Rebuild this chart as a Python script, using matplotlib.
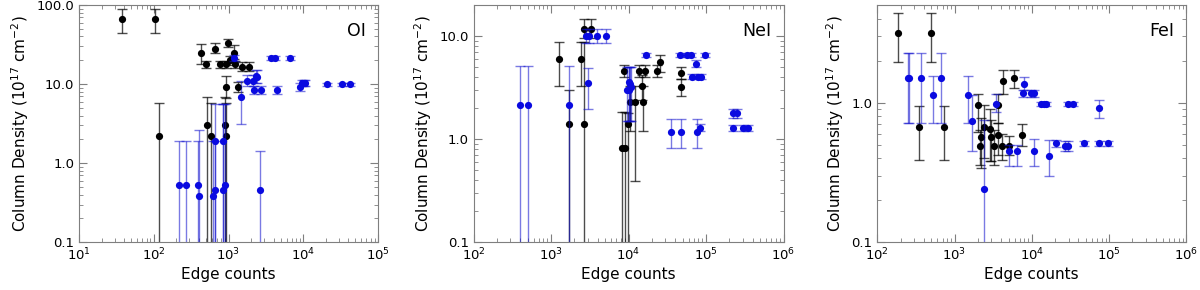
import matplotlib
matplotlib.use("Agg")
import matplotlib.pyplot as plt
import numpy as np
from matplotlib.ticker import FormatStrFormatter, LogLocator

# ---------------- OI ----------------
oi_k_x  = [37.6, 105, 116, 424, 500, 651, 760, 931, 990, 1035, 1180, 1218, 1497, 1875, 931, 1337, 509, 582, 903, 915]
oi_k_y  = [66.5, 66.5, 2.2, 24.9, 17.9, 28.0, 17.9, 17.9, 33.3, 20.0, 24.9, 17.9, 16.4, 16.4, 9.2, 9.2, 3.0, 2.2, 3.0, 2.2]
oi_k_lo = [44, 44, 0.01, 17.7, 16.0, 24.5, 16.0, 16.0, 29.7, 17.5, 21.0, 16.0, 14.6, 14.6, 6.7, 8.0, 0.01, 0.01, 0.01, 0.01]
oi_k_hi = [88, 88, 5.8, 31.8, 19.8, 32.7, 19.8, 19.8, 37.5, 22.5, 31.0, 19.8, 18.8, 18.8, 12.5, 10.5, 6.8, 5.8, 6.8, 5.8]

oi_b_x  = [1170, 3690, 4130, 6560, 1780, 2120, 2300, 2400, 2210, 2730, 4440, 1466, 9100, 9490, 10200, 10700,
           20700, 32500, 41600, 651, 834, 217, 272, 390, 406, 624, 651, 834, 887, 2630]
oi_b_y  = [21.5, 21.4, 21.4, 21.4, 11.1, 11.1, 12.6, 12.2, 8.5, 8.5, 8.5, 6.9, 9.2, 10.4, 10.4, 10.4,
           10.0, 10.0, 10.0, 1.9, 1.9, 0.537, 0.537, 0.537, 0.385, 0.385, 0.455, 0.455, 0.537, 0.455]
oi_b_lo = [19.5, 20.0, 20.0, 20.0, 9.6, 9.6, 10.4, 10.4, 7.5, 7.5, 7.5, 3.1, 8.2, 9.6, 9.6, 9.6,
           9.6, 9.6, 9.6, 0.01, 0.01, 0.01, 0.01, 0.01, 0.01, 0.01, 0.01, 0.01, 0.01, 0.01]
oi_b_hi = [23.5, 22.8, 22.8, 22.8, 13.0, 13.0, 14.9, 14.9, 9.6, 9.6, 9.6, 11.0, 10.2, 11.2, 11.2, 11.2,
           10.4, 10.4, 10.4, 5.6, 5.6, 1.9, 1.9, 1.9, 2.6, 1.9, 1.9, 5.6, 5.6, 1.41]

# ---------------- NeI ----------------
ne_k_x  = [1280, 2440, 2640, 3280, 1720, 2640, 8670, 13800, 16500, 23100, 25700, 14800, 10400, 12200, 15500,
           9870, 8170, 9020, 47500, 47500]
ne_k_y  = [6.0, 6.0, 11.8, 11.8, 1.39, 1.39, 4.54, 4.54, 4.54, 4.54, 5.58, 3.27, 2.28, 2.28, 2.28,
           1.41, 0.82, 0.82, 4.35, 3.22]
ne_k_lo = [3.27, 3.27, 9.5, 9.5, 0.01, 0.01, 3.97, 3.97, 3.97, 3.97, 4.5, 2.4, 1.2, 0.39, 1.2,
           0.01, 0.01, 0.01, 3.8, 2.65]
ne_k_hi = [8.7, 8.7, 14.5, 14.5, 3.0, 8.8, 5.19, 5.19, 5.19, 5.19, 6.5, 4.2, 3.3, 3.3, 3.3,
           1.8, 1.83, 1.83, 5.0, 3.8]

ne_b_x  = [398, 509, 1690, 3000, 2850, 3090, 3890, 5130, 16800, 45700, 56900, 63500, 97000, 75000,
           65300, 78800, 87100, 35600, 48000, 76600, 83700, 225000, 251000, 225000, 300000, 351000,
           10000, 10400, 9700, 10200, 10800]
ne_b_y  = [2.14, 2.14, 2.14, 3.5, 10.0, 10.0, 10.0, 10.0, 6.58, 6.58, 6.58, 6.58, 6.58, 5.38,
           4.0, 4.0, 4.0, 1.18, 1.18, 1.18, 1.29, 1.78, 1.78, 1.29, 1.29, 1.29,
           3.6, 3.4, 3.0, 3.0, 3.2]
ne_b_lo = [0.01, 0.01, 0.01, 1.97, 8.5, 8.5, 8.5, 8.5, 6.3, 6.3, 6.3, 6.3, 6.3, 5.0,
           3.8, 3.8, 3.8, 0.83, 0.83, 0.83, 1.2, 1.6, 1.6, 1.2, 1.2, 1.2,
           1.5, 1.5, 1.5, 1.5, 1.5]
ne_b_hi = [5.08, 5.08, 5.08, 4.92, 11.6, 11.6, 11.6, 11.6, 6.9, 6.9, 6.9, 6.9, 6.9, 5.8,
           4.3, 4.3, 4.3, 1.56, 1.56, 1.56, 1.4, 1.98, 1.98, 1.38, 1.38, 1.38,
           5.0, 5.0, 5.0, 5.0, 5.0]

# ---------------- FeI ----------------
fe_k_x  = [184, 491, 343, 731, 1995, 3630, 4290, 5950, 2410, 2860, 2180, 2970, 3630, 2140, 3280, 4170, 5080, 7550]
fe_k_y  = [3.15, 3.15, 0.672, 0.672, 0.957, 0.957, 1.44, 1.49, 0.668, 0.647, 0.563, 0.563, 0.585, 0.49, 0.49, 0.49, 0.49, 0.585]
fe_k_lo = [1.95, 1.95, 0.387, 0.387, 0.62, 0.71, 1.15, 1.27, 0.40, 0.38, 0.34, 0.38, 0.42, 0.36, 0.36, 0.39, 0.42, 0.49]
fe_k_hi = [4.35, 4.35, 0.94, 0.94, 1.15, 1.15, 1.72, 1.72, 0.96, 0.90, 0.78, 0.75, 0.72, 0.64, 0.64, 0.60, 0.58, 0.70]

fe_b_x  = [248, 260, 365, 668, 527, 1510, 1670, 2410, 3410, 7940, 7640, 9890, 10800, 13100, 14400, 15300,
           29500, 34600, 74500, 5010, 6510, 10600, 16900, 20400, 27200, 29800, 48000, 74400, 97300]
fe_b_y  = [1.5, 1.5, 1.5, 1.5, 1.13, 1.13, 0.742, 0.24, 0.983, 1.35, 1.17, 1.17, 1.17, 0.98, 0.98, 0.98,
           0.98, 0.98, 0.91, 0.449, 0.449, 0.449, 0.418, 0.513, 0.49, 0.49, 0.51, 0.51, 0.51]
fe_b_lo = [0.72, 0.72, 0.72, 0.72, 0.72, 0.72, 0.45, 0.01, 0.85, 1.24, 1.10, 1.10, 1.10, 0.95, 0.95, 0.95,
           0.95, 0.95, 0.78, 0.35, 0.35, 0.35, 0.30, 0.48, 0.45, 0.45, 0.49, 0.49, 0.49]
fe_b_hi = [2.28, 2.28, 2.28, 2.28, 1.55, 1.55, 1.14, 0.75, 1.15, 1.53, 1.24, 1.24, 1.24, 1.01, 1.01, 1.01,
           1.01, 1.01, 1.05, 0.50, 0.50, 0.55, 0.54, 0.54, 0.53, 0.53, 0.53, 0.53, 0.53]

panels = [
    dict(name="OI", xlim=(10, 1e5), ylim=(0.1, 100),
         k=(oi_k_x, oi_k_y, oi_k_lo, oi_k_hi), b=(oi_b_x, oi_b_y, oi_b_lo, oi_b_hi),
         pos=[79/1200, 1-242.3/290, 299/1200, 237.3/290]),
    dict(name="NeI", xlim=(100, 1e6), ylim=(0.1, 20),
         k=(ne_k_x, ne_k_y, ne_k_lo, ne_k_hi), b=(ne_b_x, ne_b_y, ne_b_lo, ne_b_hi),
         pos=[473.5/1200, 1-242.3/290, 310/1200, 237.3/290]),
    dict(name="FeI", xlim=(100, 1e6), ylim=(0.1, 5),
         k=(fe_k_x, fe_k_y, fe_k_lo, fe_k_hi), b=(fe_b_x, fe_b_y, fe_b_lo, fe_b_hi),
         pos=[877.3/1200, 1-242.3/290, 309/1200, 237.3/290]),
]

fig = plt.figure(figsize=(12, 2.9), dpi=100)
blue = "#0a0ae0"
spine_col = "#7f7f7f"

def draw(ax, data, col, ecol):
    x, y, lo, hi = [np.asarray(a, float) for a in data]
    yerr = np.vstack([y - lo, hi - y])
    ax.errorbar(x, y, yerr=yerr, fmt="none", ecolor=ecol, elinewidth=1.0,
                capsize=3.5, capthick=1.0)
    ax.plot(x, y, "o", color=col, markersize=5.2, markeredgewidth=0)

for p in panels:
    ax = fig.add_axes(p["pos"])
    ax.set_xscale("log", nonpositive="clip")
    ax.set_yscale("log", nonpositive="clip")
    draw(ax, p["k"], "black", (0, 0, 0, 0.7))
    draw(ax, p["b"], blue, (0.05, 0.05, 0.8, 0.55))
    ax.set_xlim(*p["xlim"])
    ax.set_ylim(*p["ylim"])
    ax.yaxis.set_major_locator(LogLocator(base=10))
    ax.yaxis.set_major_formatter(FormatStrFormatter("%.1f"))
    ax.tick_params(which="both", direction="in", top=True, right=True, colors=spine_col,
                   labelcolor="black", labelsize=9.5)
    ax.tick_params(which="major", length=6)
    ax.tick_params(which="minor", length=3)
    for s in ax.spines.values():
        s.set_color(spine_col)
    ax.set_xlabel("Edge counts", fontsize=11, labelpad=2)
    ax.set_ylabel("Column Density (10$^{17}$ cm$^{-2}$)", fontsize=11)
    ax.text(0.96, 0.93, p["name"], transform=ax.transAxes, ha="right", va="top", fontsize=12.5)

fig.savefig("out.png", dpi=100)
